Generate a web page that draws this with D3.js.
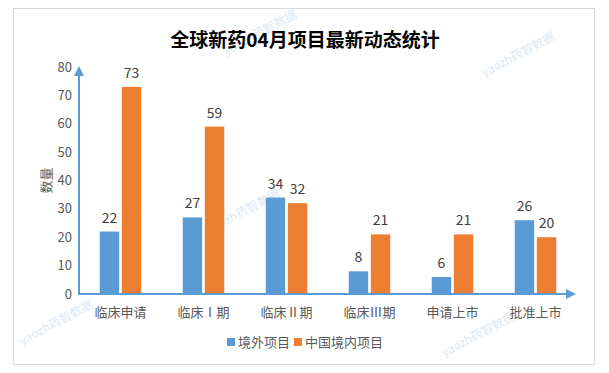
<!DOCTYPE html>
<html>
<head>
<meta charset="utf-8">
<script src="https://cdn.jsdelivr.net/npm/d3@7"></script>
<style>
  html, body { margin: 0; padding: 0; background: #fff; }
  svg { display: block; font-family: "Noto Sans CJK SC", "Noto Sans", sans-serif; }
</style>
</head>
<body>
<div id="chart"></div>
<script>
// DATA
const categories = ["临床申请", "临床Ⅰ期", "临床Ⅱ期", "临床Ⅲ期", "申请上市", "批准上市"];
const seriesNames = ["境外项目", "中国境内项目"];
const overseas = [22, 27, 34, 8, 6, 26];
const domestic = [73, 59, 32, 21, 21, 20];
const yTicks = [0, 10, 20, 30, 40, 50, 60, 70, 80];

const COLORS = ["#5b9bd5", "#ed7d31"];
const AXIS = "#5b9bd5";

const width = 609, height = 373;

const svg = d3.select("#chart").append("svg")
  .attr("width", width).attr("height", height);

// frame
svg.append("rect")
  .attr("x", 13.5).attr("y", 8.5)
  .attr("width", 581).attr("height", 356)
  .attr("fill", "#fff").attr("stroke", "#d9d9d9");

// watermarks (faint)
const marks = [[262, 36], [520, 58], [245, 215], [58, 326], [480, 338]];
svg.append("g").selectAll("text").data(marks).enter().append("text")
  .attr("transform", d => `translate(${d[0]},${d[1]}) rotate(-28)`)
  .attr("text-anchor", "middle")
  .attr("font-size", 12)
  .attr("fill", "#bcd3ee")
  .attr("opacity", 0.5)
  .text("yaozh药智数据");

// title
svg.append("text")
  .attr("x", 305).attr("y", 47)
  .attr("text-anchor", "middle")
  .attr("font-size", 19).attr("font-weight", "bold")
  .attr("fill", "#000")
  .text("全球新药04月项目最新动态统计");

// SCALES
const x0 = 79, x1 = 577;
const y0 = 294, yTop = 67;
const x = d3.scaleBand().domain(categories).range([x0, x1]).paddingInner(0.5).paddingOuter(0.25);
const xs = d3.scaleBand().domain(seriesNames).range([0, x.bandwidth()]).paddingInner(0.12);
const y = d3.scaleLinear().domain([0, 80]).range([y0, yTop]);

// Y tick labels
svg.append("g").selectAll("text").data(yTicks).enter().append("text")
  .attr("x", 72).attr("y", d => y(d))
  .attr("dy", "0.35em")
  .attr("text-anchor", "end")
  .attr("font-size", 13).attr("fill", "#595959")
  .text(d => d);

// Y title
svg.append("text")
  .attr("transform", `translate(46,${y(40)}) rotate(-90)`)
  .attr("text-anchor", "middle").attr("dy", "0.35em")
  .attr("font-size", 13).attr("fill", "#595959")
  .text("数量");

// BARS
const data = [overseas, domestic];
const groups = svg.append("g").selectAll("g").data(categories).enter().append("g")
  .attr("transform", d => `translate(${x(d)},0)`);

groups.selectAll("rect").data((c, i) => seriesNames.map((s, k) => ({ s, v: data[k][i], k })))
  .enter().append("rect")
  .attr("x", d => xs(d.s))
  .attr("y", d => y(d.v))
  .attr("width", xs.bandwidth())
  .attr("height", d => y0 - y(d.v))
  .attr("fill", d => COLORS[d.k]);

groups.selectAll("text").data((c, i) => seriesNames.map((s, k) => ({ s, v: data[k][i], k })))
  .enter().append("text")
  .attr("x", d => xs(d.s) + xs.bandwidth() / 2)
  .attr("y", d => y(d.v) - 9)
  .attr("text-anchor", "middle")
  .attr("font-size", 14).attr("fill", "#404040")
  .text(d => d.v);

// AXES with arrows
const defs = svg.append("defs");
defs.append("marker")
  .attr("id", "arrow").attr("viewBox", "0 0 10 10")
  .attr("refX", 5).attr("refY", 5)
  .attr("markerWidth", 5).attr("markerHeight", 5)
  .attr("orient", "auto")
  .append("path").attr("d", "M0,0 L10,5 L0,10 z").attr("fill", AXIS);

svg.append("line")
  .attr("x1", x0).attr("y1", y0).attr("x2", x0).attr("y2", yTop + 4)
  .attr("stroke", AXIS).attr("stroke-width", 2)
  .attr("marker-end", "url(#arrow)");
svg.append("line")
  .attr("x1", x0 - 1).attr("y1", y0).attr("x2", x1 - 6).attr("y2", y0)
  .attr("stroke", AXIS).attr("stroke-width", 2)
  .attr("marker-end", "url(#arrow)");

// X labels
svg.append("g").selectAll("text").data(categories).enter().append("text")
  .attr("x", d => x(d) + x.bandwidth() / 2)
  .attr("y", 312).attr("dy", "0.35em")
  .attr("text-anchor", "middle")
  .attr("font-size", 13).attr("fill", "#595959")
  .text(d => d);

// LEGEND
const legend = svg.append("g");
const legendX = [227, 294];
seriesNames.forEach((s, k) => {
  legend.append("rect")
    .attr("x", legendX[k]).attr("y", 338)
    .attr("width", 8).attr("height", 8)
    .attr("fill", COLORS[k]);
  legend.append("text")
    .attr("x", legendX[k] + 11).attr("y", 342).attr("dy", "0.35em")
    .attr("font-size", 13).attr("fill", "#595959")
    .text(s);
});
</script>
</body>
</html>
